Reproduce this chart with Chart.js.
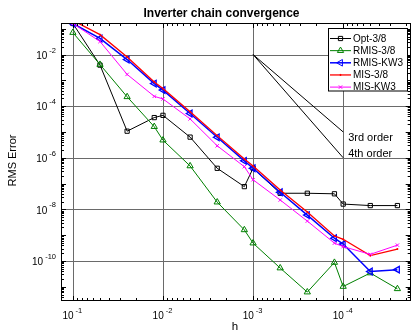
<!DOCTYPE html>
<html><head><meta charset="utf-8">
<script src="https://cdn.jsdelivr.net/npm/chart.js@4/dist/chart.umd.min.js"></script>
<style>html,body{margin:0;padding:0;background:#fff;}canvas{display:block;}</style>
</head><body>
<canvas id="c" width="416" height="333"></canvas>
<script>
// ---- data ----
const hValues = [0.1, 0.05, 0.025, 0.0125, 0.01, 0.005, 0.0025, 0.00125, 0.001, 5e-4, 2.5e-4, 1.25e-4, 1e-4, 5e-5, 2.5e-5];
const opt38   = [0.16, 3.9e-3, 1.07e-5, 3.6e-5, 4.4e-5, 6.3e-6, 3.9e-7, 7.6e-8, 3.9e-7, 4.2e-8, 4.2e-8, 4.0e-8, 1.6e-8, 1.4e-8, 1.4e-8];
const rmis38  = [0.071, 4.1e-3, 2.3e-4, 1.6e-5, 4.8e-6, 4.8e-7, 1.9e-8, 1.6e-9, 4.9e-10, 5.3e-11, 6.2e-12, 8.7e-11, 1.02e-11, 3.4e-11, 8.3e-12];
const rmisKW3 = [0.16, 0.042, 6.4e-3, 7.5e-4, 4.2e-4, 5.2e-5, 6.2e-6, 7.6e-7, 3.9e-7, 4.6e-8, 6.0e-9, 7.6e-10, 4.5e-10, 3.9e-11, 4.6e-11];
const mis38   = [0.21, 0.059, 8.1e-3, 8.7e-4, 4.8e-4, 6.0e-5, 7.2e-6, 8.9e-7, 4.8e-7, 5.6e-8, 7.9e-9, 9.3e-10, 6.9e-10, 1.6e-10, 2.9e-10];
const misKW3  = [0.16, 0.032, 1.7e-3, 2.4e-4, 1.9e-4, 3.2e-5, 2.9e-6, 4.5e-7, 1.4e-7, 2.3e-8, 3.5e-9, 4.9e-10, 3.6e-10, 1.8e-10, 4.1e-10];
const seriesNames = ['Opt-3/8', 'RMIS-3/8', 'RMIS-KW3', 'MIS-3/8', 'MIS-KW3'];
const orderH = [1e-3, 1e-4];
const order3 = [1e-2, 1e-5];
const order4 = [1e-2, 1e-6];
const orderNames = ['3rd order', '4th order'];
const xTickExps = [-1, -2, -3, -4];
const yTickExps = [-2, -4, -6, -8, -10];
const titleText = 'Inverter chain convergence';
const xTitle = 'h';
const yTitle = 'RMS Error';
const xMin = 1.78e-5, xMax = 0.1355, yMin = 2.8e-12, yMax = 0.167;

// ---- styles ----
const FONT = '"Liberation Sans", Arial, Helvetica, sans-serif';
const styles = [
  {color: '#000000', width: 1,   pointStyle: 'rect',     radius: 3,   rotation: 0},
  {color: '#008000', width: 1,   pointStyle: 'triangle', radius: 3.6, rotation: 0},
  {color: '#0000ff', width: 1.5, pointStyle: 'triangle', radius: 3.8, rotation: -90},
  {color: '#ff0000', width: 1.3, pointStyle: 'cross',    radius: 1,   rotation: 0},
  {color: '#ff00ff', width: 1,   pointStyle: 'crossRot', radius: 2.4, rotation: 0}
];
const seriesValues = [opt38, rmis38, rmisKW3, mis38, misKW3];
const toXY = (xs, ys) => xs.map((x, i) => ({x: x, y: ys[i]}));

const datasets = seriesValues.map((vals, i) => ({
  label: seriesNames[i],
  data: toXY(hValues, vals),
  borderColor: styles[i].color,
  borderWidth: styles[i].width,
  pointStyle: styles[i].pointStyle,
  pointRadius: styles[i].radius,
  pointRotation: styles[i].rotation,
  pointBorderColor: styles[i].color,
  pointBackgroundColor: 'rgba(0,0,0,0)',
  pointBorderWidth: i === 2 ? 1.3 : 1,
  showLine: true,
  tension: 0,
  order: 10 - i
}));
[order3, order4].forEach((vals, i) => datasets.push({
  label: orderNames[i],
  data: toXY(orderH, vals),
  borderColor: '#000000',
  borderWidth: 1,
  pointRadius: 0,
  showLine: true,
  order: 20
}));

function drawMarker(ctx, st, x, y) {
  const r = st.radius, rad = st.rotation * Math.PI / 180;
  ctx.save();
  ctx.strokeStyle = st.color; ctx.lineWidth = 1;
  ctx.beginPath();
  if (st.pointStyle === 'rect') {
    const s = Math.SQRT1_2 * r; ctx.rect(x - s, y - s, 2 * s, 2 * s);
  } else if (st.pointStyle === 'triangle') {
    ctx.moveTo(x + Math.sin(rad) * r, y - Math.cos(rad) * r);
    let a = rad + 2 * Math.PI / 3;
    ctx.lineTo(x + Math.sin(a) * r, y - Math.cos(a) * r);
    a += 2 * Math.PI / 3;
    ctx.lineTo(x + Math.sin(a) * r, y - Math.cos(a) * r);
    ctx.closePath();
  } else if (st.pointStyle === 'cross') {
    ctx.moveTo(x - r, y); ctx.lineTo(x + r, y); ctx.moveTo(x, y - r); ctx.lineTo(x, y + r);
  } else if (st.pointStyle === 'crossRot') {
    const s = r * Math.SQRT1_2;
    ctx.moveTo(x - s, y - s); ctx.lineTo(x + s, y + s); ctx.moveTo(x - s, y + s); ctx.lineTo(x + s, y - s);
  }
  ctx.stroke();
  ctx.restore();
}

function powLabel(ctx, exp, cx, cy, align) {
  const base = '10', ex = String(exp);
  ctx.font = '10px ' + FONT; const wb = ctx.measureText(base).width;
  ctx.font = '7.5px ' + FONT; const we = ctx.measureText(ex).width;
  const gap = 2;
  let x0;
  if (align === 'right') x0 = cx - we - gap - wb; else x0 = cx - (wb + gap + we) / 2;
  ctx.textAlign = 'left'; ctx.textBaseline = 'middle'; ctx.fillStyle = '#000';
  ctx.font = '10px ' + FONT; ctx.fillText(base, x0, cy + 1.5);
  ctx.font = '7.5px ' + FONT; ctx.fillText(ex, x0 + wb + gap, cy - 4);
}

const decorPlugin = {
  id: 'decor',
  beforeDraw(chart) {
    const ctx = chart.ctx;
    ctx.save(); ctx.fillStyle = '#fff'; ctx.fillRect(0, 0, chart.width, chart.height); ctx.restore();
  },
  beforeDatasetsDraw(chart) {
    const {ctx, chartArea: a, scales: {x, y}} = chart;
    ctx.save();
    ctx.strokeStyle = '#6a6a6a'; ctx.lineWidth = 1;
    xTickExps.forEach(e => {
      const px = Math.round(x.getPixelForValue(Math.pow(10, e))) + 0.5;
      ctx.beginPath(); ctx.moveTo(px, a.top); ctx.lineTo(px, a.bottom); ctx.stroke();
    });
    yTickExps.forEach(e => {
      const py = Math.round(y.getPixelForValue(Math.pow(10, e))) + 0.5;
      ctx.beginPath(); ctx.moveTo(a.left, py); ctx.lineTo(a.right, py); ctx.stroke();
    });
    ctx.restore();
  },
  afterDatasetsDraw(chart) {
    const {ctx, chartArea: a, scales: {x, y}} = chart;
    ctx.save();
    // minor / major ticks
    ctx.strokeStyle = '#000'; ctx.lineWidth = 1;
    for (let d = -6; d <= 0; d++) {
      for (let m = 1; m <= 9; m++) {
        const v = m * Math.pow(10, d);
        const len = m === 1 ? 5 : 3;
        if (v >= xMin && v <= xMax) {
          const px = Math.round(x.getPixelForValue(v)) + 0.5;
          ctx.beginPath();
          ctx.moveTo(px, a.bottom); ctx.lineTo(px, a.bottom - len);
          ctx.moveTo(px, a.top); ctx.lineTo(px, a.top + len);
          ctx.stroke();
        }
      }
    }
    for (let d = -13; d <= 0; d++) {
      for (let m = 1; m <= 9; m++) {
        const v = m * Math.pow(10, d);
        const len = m === 1 ? 5 : 3;
        if (v >= yMin && v <= yMax) {
          const py = Math.round(y.getPixelForValue(v)) + 0.5;
          ctx.beginPath();
          ctx.moveTo(a.left, py); ctx.lineTo(a.left + len, py);
          ctx.moveTo(a.right, py); ctx.lineTo(a.right - len, py);
          ctx.stroke();
        }
      }
    }
    // box
    ctx.strokeRect(Math.round(a.left) + 0.5, Math.round(a.top) + 0.5, Math.round(a.right - a.left) - 1, Math.round(a.bottom - a.top) - 1);
    // tick labels
    xTickExps.forEach(e => powLabel(ctx, e, x.getPixelForValue(Math.pow(10, e)) - 0.5, a.bottom + 14, 'center'));
    yTickExps.forEach(e => powLabel(ctx, e, a.left - 5, y.getPixelForValue(Math.pow(10, e)), 'right'));
    // titles
    ctx.fillStyle = '#000'; ctx.textAlign = 'center'; ctx.textBaseline = 'middle';
    ctx.font = 'bold 12px ' + FONT; ctx.fillText(titleText, 221.5, 14);
    ctx.font = '11.5px ' + FONT; ctx.fillText(xTitle, (a.left + a.right) / 2 - 1, 327);
    ctx.save(); ctx.translate(12.5, (a.top + a.bottom) / 2 - 1.5); ctx.rotate(-Math.PI / 2);
    ctx.font = '11px ' + FONT; ctx.fillText(yTitle, 0, 0); ctx.restore();
    // order labels
    ctx.font = '11px ' + FONT; ctx.textAlign = 'left';
    const ex = x.getPixelForValue(orderH[1]);
    ctx.fillText(orderNames[0], ex + 5, y.getPixelForValue(order3[1]) + 6.5);
    ctx.fillText(orderNames[1], ex + 5, y.getPixelForValue(order4[1]) - 3.5);
    // legend
    const lx = 328.5, ly = 28.5, lw = 79, lh = 62.5;
    ctx.fillStyle = '#fff'; ctx.fillRect(lx, ly, lw, lh);
    ctx.strokeStyle = '#000'; ctx.lineWidth = 1; ctx.strokeRect(lx, ly, lw, lh);
    ctx.font = '10px ' + FONT; ctx.textBaseline = 'middle'; ctx.textAlign = 'left';
    seriesNames.forEach((name, i) => {
      const yy = 38.5 + i * 12.15;
      const st = styles[i];
      ctx.strokeStyle = st.color; ctx.lineWidth = st.width;
      ctx.beginPath(); ctx.moveTo(330, yy); ctx.lineTo(351, yy); ctx.stroke();
      drawMarker(ctx, st, 340.5, yy);
      ctx.fillStyle = '#000'; ctx.fillText(name, 353, yy + 0.5);
    });
    ctx.restore();
  }
};

new Chart(document.getElementById('c'), {
  type: 'scatter',
  data: {datasets: datasets},
  options: {
    responsive: false, animation: false, devicePixelRatio: 1,
    layout: {padding: {left: 61, right: 3, top: 23, bottom: 32}},
    plugins: {legend: {display: false}, title: {display: false}, tooltip: {enabled: false}},
    elements: {line: {tension: 0}},
    scales: {
      x: {type: 'logarithmic', reverse: true, min: xMin, max: xMax,
          grid: {display: false}, border: {display: false}, ticks: {display: false},
          afterFit: s => { s.height = 0; }},
      y: {type: 'logarithmic', min: yMin, max: yMax,
          grid: {display: false}, border: {display: false}, ticks: {display: false},
          afterFit: s => { s.width = 0; }}
    }
  },
  plugins: [decorPlugin]
});
</script>
</body></html>
